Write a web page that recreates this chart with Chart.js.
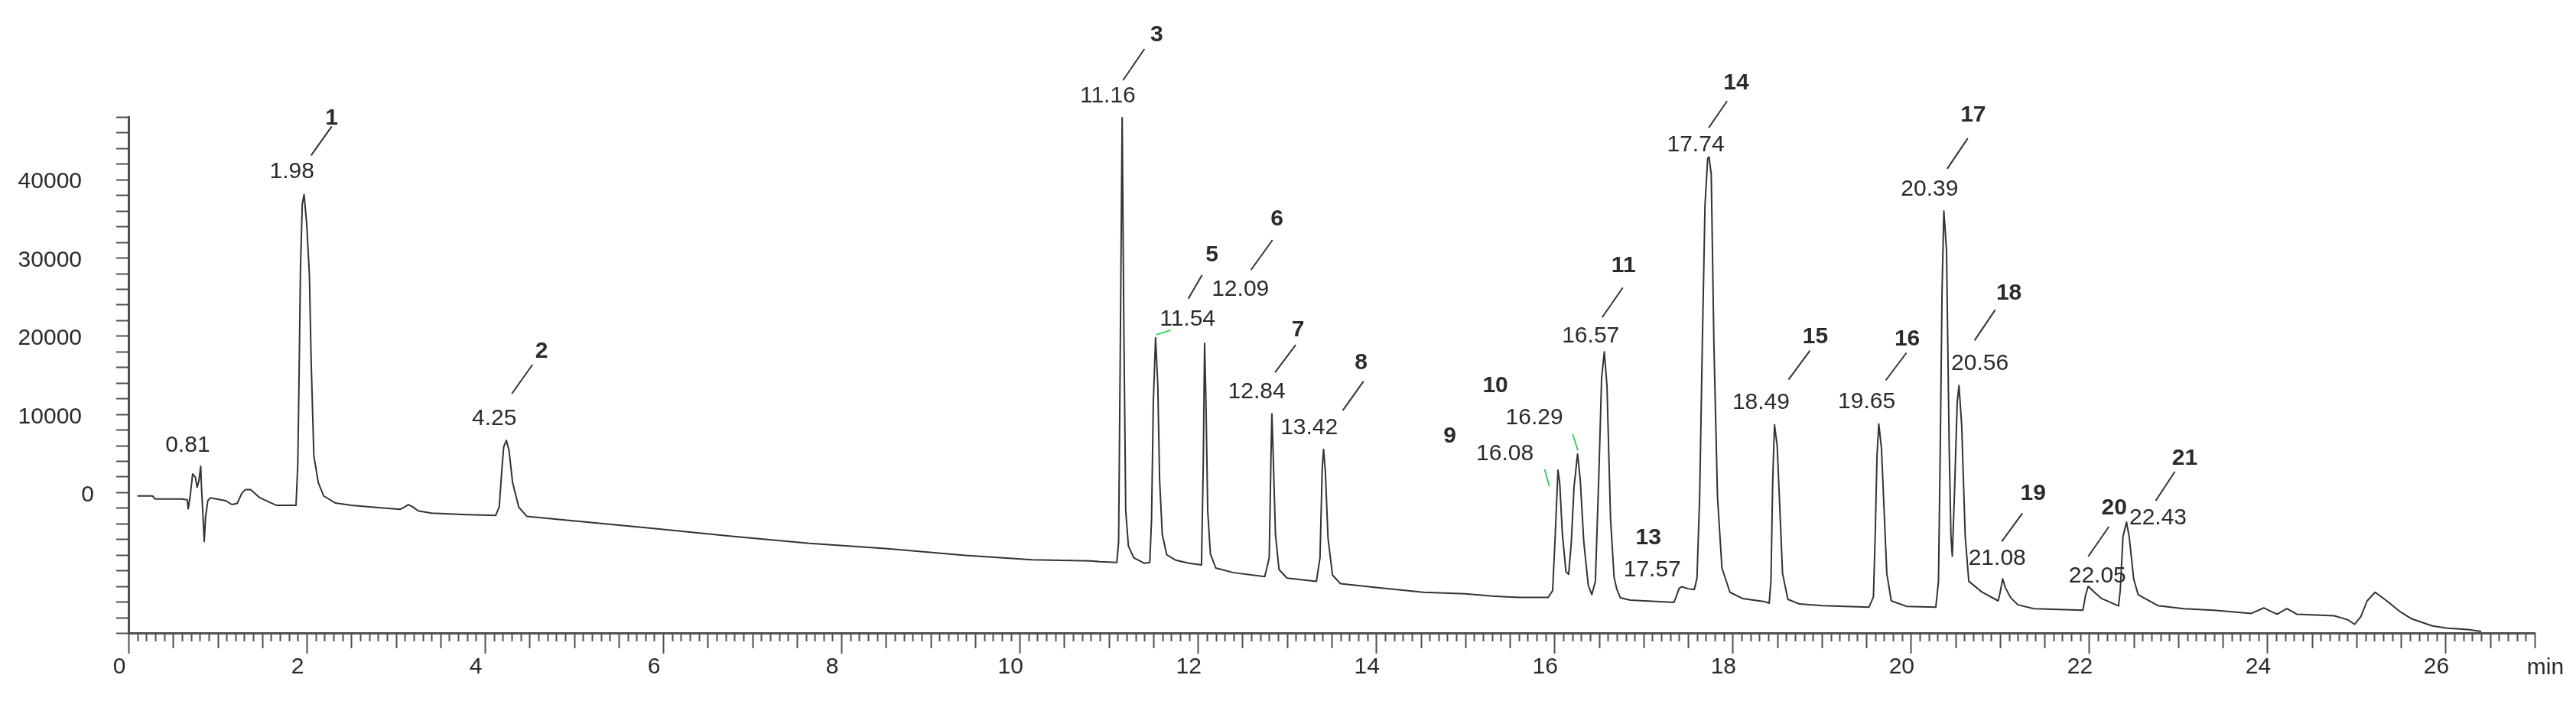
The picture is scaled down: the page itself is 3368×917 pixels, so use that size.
<!DOCTYPE html>
<html>
<head>
<meta charset="utf-8">
<script src="https://cdn.jsdelivr.net/npm/chart.js@4.4.1/dist/chart.umd.min.js"></script>
<style>
    html, body { margin: 0; padding: 0; background: #fff; }
    #wrap { width: 3368px; height: 917px; position: relative; }
</style>
</head>
<body>
<div id="wrap"><canvas id="chromatogram"></canvas></div>
<script>
// trace: retention time (min) and detector signal
const times = [
    0.10, 0.27, 0.30, 0.60, 0.66, 0.67, 0.69, 0.72, 0.75, 0.77, 0.79, 0.81, 0.82, 0.835, 0.85, 0.865, 0.89, 0.92,
    1.09, 1.16, 1.22, 1.27, 1.31, 1.37, 1.47, 1.59, 1.66, 1.88, 1.90, 1.915, 1.93, 1.95, 1.97, 2.00, 2.03, 2.05,
    2.08, 2.13, 2.19, 2.32, 2.50, 2.80, 3.05, 3.10, 3.14, 3.19, 3.25, 3.40, 3.80, 4.12, 4.16, 4.19, 4.21, 4.24,
    4.27, 4.31, 4.38, 4.47, 5.01, 5.89, 6.77, 7.64, 8.52, 9.39, 10.14, 10.80, 10.90, 11.09, 11.11, 11.13, 11.15,
    11.17, 11.19, 11.22, 11.28, 11.40, 11.46, 11.48, 11.50, 11.525, 11.55, 11.57, 11.60, 11.65, 11.75, 11.90,
    12.04, 12.06, 12.075, 12.09, 12.11, 12.14, 12.20, 12.40, 12.75, 12.80, 12.82, 12.83, 12.845, 12.87, 12.91,
    13.00, 13.33, 13.37, 13.395, 13.41, 13.43, 13.46, 13.51, 13.60, 14.00, 14.53, 15.00, 15.30, 15.60, 15.93,
    15.98, 16.01, 16.04, 16.06, 16.09, 16.13, 16.16, 16.19, 16.22, 16.26, 16.29, 16.33, 16.38, 16.42, 16.46,
    16.50, 16.53, 16.56, 16.59, 16.63, 16.67, 16.70, 16.74, 16.85, 17.34, 17.36, 17.40, 17.43, 17.50, 17.57,
    17.60, 17.63, 17.66, 17.69, 17.72, 17.735, 17.76, 17.79, 17.83, 17.88, 17.97, 18.11, 18.36, 18.41, 18.43,
    18.45, 18.47, 18.50, 18.53, 18.56, 18.62, 18.75, 19.00, 19.53, 19.58, 19.60, 19.62, 19.64, 19.67, 19.70,
    19.73, 19.78, 19.95, 20.28, 20.31, 20.33, 20.35, 20.37, 20.40, 20.43, 20.45, 20.465, 20.49, 20.52, 20.54,
    20.57, 20.61, 20.65, 20.80, 20.98, 21.00, 21.03, 21.06, 21.12, 21.20, 21.38, 21.93, 21.96, 21.99, 22.05,
    22.14, 22.33, 22.35, 22.38, 22.42, 22.45, 22.50, 22.55, 22.77, 23.06, 23.40, 23.82, 23.96, 24.05, 24.11,
    24.22, 24.33, 24.75, 24.90, 24.98, 25.05, 25.12, 25.21, 25.34, 25.48, 25.62, 25.85, 26.02, 26.25, 26.40
];
const signal = [
    -100, -100, -500, -500, -600, -1750, -300, 2700, 2300, 1000, 1800, 3700, 800, -2400, -5900, -2800, -700, -350,
    -700, -1200, -1050, 200, 700, 700, -300, -950, -1300, -1300, 4000, 16000, 29000, 37200, 38400, 34600, 28100, 17000,
    5000, 1600, -100, -1000, -1300, -1600, -1800, -1500, -1200, -1500, -2000, -2300, -2500, -2600, -1500, 3300, 6150, 7000,
    5700, 1600, -1560, -2700, -3300, -4250, -5240, -6150, -6830, -7680, -8260, -8400, -8500, -8600, -6000, 20000, 48200,
    20000, -2000, -6500, -8000, -8700, -8600, -3000, 12000, 20100, 14000, 2000, -5000, -7600, -8300, -8700,
    -8900, 4000, 19400, 12000, -2000, -7500, -9300, -9900, -10400, -8000, 5000, 10400, 5000, -5000, -9500,
    -10600, -11000, -8000, 3500, 5850, 3000, -5500, -10200, -11300, -11800, -12400, -12600, -12900, -13050, -13050,
    -12200, -5000, 3200, 1500, -5000, -9800, -10100, -6000, 1000, 5250, 2000, -6000, -11500, -12700, -11000,
    3000, 15000, 18300, 14000, -3000, -10500, -12000, -13100, -13400, -13700, -13200, -11900, -11700, -11950, -12050,
    -10600, -200, 19300, 37000, 43000, 43200, 41000, 19300, -200, -9300, -12400, -13200, -13600, -13800, -11000,
    2000, 9000, 6300, -1800, -10000, -13300, -13900, -14100, -14300, -13000, -5000, 5000, 9100, 6000, -2000,
    -10000, -13500, -14200, -14300, -11000, 6150, 26100, 36300, 31300, 6150, -5300, -7800, 440, 11900, 14000,
    9000, -5300, -11000, -12400, -13500, -12500, -10700, -11800, -13100, -14000, -14500, -14700, -12800, -11640, -12300,
    -13200, -14150, -12100, -5300, -3450, -5300, -10700, -12700, -14100, -14500, -14700, -15100, -14400, -14900, -15200,
    -14500, -15200, -15400, -15900, -16500, -15500, -13500, -12400, -13500, -14800, -15800, -16700, -17000, -17170, -17400
];

// peak annotations
const retentionTimes = [0.81, 1.98, 4.25, 11.16, 11.54, 12.09, 12.84, 13.42, 16.08, 16.29, 16.57,
    17.57, 17.74, 18.49, 19.65, 20.39, 20.56, 21.08, 22.05, 22.43];
const peakNumbers = ['', '1', '2', '3', '5', '6', '7', '8', '9', '10', '11',
    '13', '14', '15', '16', '17', '18', '19', '20', '21'];

// axis ticks
const xLabelStep = 2;
const xMinorStep = 0.1;
const yLabelValues = [0, 10000, 20000, 30000, 40000];
const yMinorStep = 2000;

// where each label sits, in pixels from the peak top
const labelLayout = [
    {rt: [-17, -19]},
    {rt: [-17, -21], line: [8, -51, 35, -89], num: [35, -91]},
    {rt: [-17, -20], line: [6, -61, 33, -99], num: [45, -108]},
    {rt: [-20, -20], line: [0, -49, 28, -90], num: [44, -100]},
    {rt: [40, -16], green: [-1, -4, 18, -10], line: [41, -51, 59, -82], num: [72, -100]},
    {rt: [45, -62], line: [59, -96, 87, -135], num: [93, -154]},
    {rt: [-21, -20], line: [3, -54, 30, -90], num: [33, -101]},
    {rt: [-20, -20], line: [24, -51, 51, -89], num: [48, -105]},
    {rt: [-74, -13], green: [-22, -1, -16, 21], num: [-146, -36]},
    {rt: [-60, -39], green: [-10, -26, -3, -5], num: [-111, -81]},
    {rt: [-19, -12], line: [-4, -45, 23, -84], num: [24, -104]},
    {rt: [-55, -2], num: [-60, -44]},
    {rt: [-18, -7], line: [-1, -38, 23, -73], num: [35, -88]},
    {rt: [-20, -21], line: [16, -59, 44, -97], num: [51, -107]},
    {rt: [-17, -21], line: [8, -57, 35, -93], num: [36, -103]},
    {rt: [-21, -20], line: [2, -55, 29, -95], num: [36, -117]},
    {rt: [25, -20], line: [18, -59, 45, -99], num: [63, -112]},
    {rt: [-13, -18], line: [-7, -49, 20, -86], num: [34, -103]},
    {rt: [5, -5], line: [-7, -39, 20, -78], num: [27, -94]},
    {rt: [40, 3], line: [37, -28, 62, -66], num: [75, -75]}
];

const FONT = '"Liberation Sans", Arial, sans-serif';
const INK = '#2b2b2b';
const AXIS = '#505050';

function near(v, step) {
    return Math.abs(v / step - Math.round(v / step)) < 1e-6;
}

// tick marks of different lengths and the value labels, drawn on the library's own scales
const tickMarks = {
    id: 'tickMarks',
    afterDraw(chart) {
        const ctx = chart.ctx;
        const x = chart.scales.x, y = chart.scales.y;
        ctx.save();
        ctx.strokeStyle = AXIS;
        ctx.lineWidth = 2;
        ctx.beginPath();
        for (let t of x.ticks) {
            let len = near(t.value, xLabelStep) ? 27 : near(t.value, 0.5) ? 20 : 11;
            let px = Math.round(x.getPixelForValue(t.value)) + 0.5;
            ctx.moveTo(px, x.top);
            ctx.lineTo(px, x.top + len);
        }
        for (let t of y.ticks) {
            let len = near(t.value, 10000) ? 24 : 16;
            let py = Math.round(y.getPixelForValue(t.value)) + 0.5;
            ctx.moveTo(y.right, py);
            ctx.lineTo(y.right - len, py);
        }
        ctx.stroke();

        ctx.fillStyle = INK;
        ctx.font = '30px ' + FONT;
        ctx.textBaseline = 'middle';
        // y values: the zero sits closer to the axis than the five-digit ones
        ctx.textAlign = 'right';
        for (let v of yLabelValues) {
            let right = v === 0 ? y.right - 45 : y.right - 61;
            ctx.fillText(String(v), right, y.getPixelForValue(v));
        }
        // unit at the end of the time axis
        ctx.textAlign = 'center';
        ctx.fillText('min', x.right + 14, x.top + 46);
        ctx.restore();
    }
};

// retention time, peak number and the little leader line
const peakLabels = {
    id: 'peakLabels',
    afterDatasetsDraw(chart) {
        const ctx = chart.ctx;
        const x = chart.scales.x, y = chart.scales.y;
        ctx.save();
        retentionTimes.forEach((rt, i) => {
            let top = -Infinity;
            times.forEach((t, j) => {
                if (t >= rt - 0.07 && t <= rt + 0.03 && signal[j] > top) top = signal[j];
            });
            const ax = x.getPixelForValue(rt);
            const ay = y.getPixelForValue(top);
            const lay = labelLayout[i];
            ctx.textAlign = 'center';
            ctx.textBaseline = 'alphabetic';
            ctx.fillStyle = INK;
            ctx.font = '30px ' + FONT;
            ctx.fillText(rt.toFixed(2), ax + lay.rt[0], ay + lay.rt[1]);
            if (peakNumbers[i]) {
                ctx.font = 'bold 30px ' + FONT;
                ctx.fillText(peakNumbers[i], ax + lay.num[0], ay + lay.num[1]);
            }
            ctx.lineWidth = 2;
            if (lay.line) {
                ctx.strokeStyle = '#333';
                ctx.beginPath();
                ctx.moveTo(ax + lay.line[0], ay + lay.line[1]);
                ctx.lineTo(ax + lay.line[2], ay + lay.line[3]);
                ctx.stroke();
            }
            if (lay.green) {
                ctx.strokeStyle = '#3ccf5a';
                ctx.beginPath();
                ctx.moveTo(ax + lay.green[0], ay + lay.green[1]);
                ctx.lineTo(ax + lay.green[2], ay + lay.green[3]);
                ctx.stroke();
            }
        });
        ctx.restore();
    }
};

new Chart(document.getElementById('chromatogram'), {
    type: 'line',
    data: {
        datasets: [{
            data: times.map((t, i) => ({x: t, y: signal[i]})),
            borderColor: '#333',
            borderWidth: 2,
            pointRadius: 0,
            tension: 0,
            borderJoinStyle: 'round',
            fill: false
        }]
    },
    options: {
        responsive: true,
        maintainAspectRatio: false,
        animation: false,
        events: [],
        layout: {padding: {top: 153, right: 54, left: 0, bottom: 0}},
        plugins: {legend: {display: false}, tooltip: {enabled: false}},
        scales: {
            x: {
                type: 'linear',
                min: 0,
                max: 27,
                afterFit(scale) { scale.height = 89; },
                border: {display: true, color: AXIS, width: 3},
                grid: {display: true, drawOnChartArea: false, drawTicks: true, tickLength: 27, tickColor: 'rgba(0,0,0,0)'},
                ticks: {
                    stepSize: xMinorStep,
                    autoSkip: false,
                    maxRotation: 0,
                    minRotation: 0,
                    includeBounds: false,
                    padding: 0,
                    labelOffset: -12,
                    color: INK,
                    font: {family: FONT, size: 30},
                    callback: v => near(v, xLabelStep) && v < 27 ? String(Math.round(v)) : ''
                }
            },
            y: {
                type: 'linear',
                min: -17600,
                max: 48300,
                afterFit(scale) { scale.width = 168; },
                border: {display: true, color: AXIS, width: 3},
                grid: {display: true, drawOnChartArea: false, drawTicks: false, tickColor: 'rgba(0,0,0,0)'},
                ticks: {
                    stepSize: yMinorStep,
                    autoSkip: false,
                    includeBounds: false,
                    display: false
                }
            }
        }
    },
    plugins: [tickMarks, peakLabels]
});
</script>
</body>
</html>
